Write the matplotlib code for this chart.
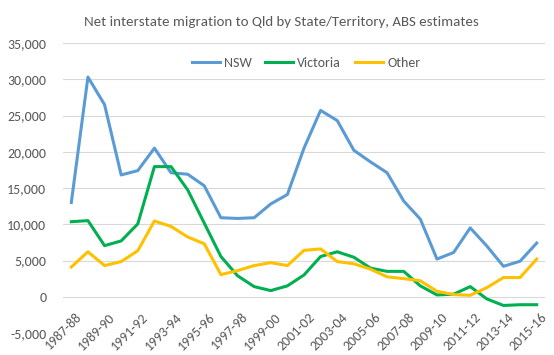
import matplotlib
matplotlib.use("Agg")
import matplotlib.pyplot as plt
from matplotlib.ticker import FuncFormatter, MultipleLocator

plt.rcParams['font.family'] = ['Carlito', 'Liberation Sans', 'DejaVu Sans']

years = ["1987-88", "1988-89", "1989-90", "1990-91", "1991-92", "1992-93", "1993-94",
         "1994-95", "1995-96", "1996-97", "1997-98", "1998-99", "1999-00", "2000-01",
         "2001-02", "2002-03", "2003-04", "2004-05", "2005-06", "2006-07", "2007-08",
         "2008-09", "2009-10", "2010-11", "2011-12", "2012-13", "2013-14", "2014-15",
         "2015-16"]

nsw = [13000, 30300, 26500, 16800, 17400, 20500, 17100, 16900, 15300, 10900, 10800,
       10900, 12800, 14100, 20500, 25700, 24300, 20200, 18600, 17100, 13200, 10700,
       5200, 6100, 9500, 7000, 4200, 4900, 7400]

victoria = [10350, 10500, 7050, 7700, 10050, 17950, 17950, 14750, 10150, 5550, 2900,
            1400, 850, 1500, 3000, 5550, 6200, 5450, 3950, 3500, 3500, 1500, 250, 350,
            1400, -300, -1200, -1100, -1100]

other = [4100, 6200, 4300, 4850, 6350, 10450, 9700, 8250, 7300, 3050, 3600, 4300,
         4700, 4300, 6400, 6600, 4850, 4550, 3800, 2750, 2500, 2200, 750, 300, 200,
         1250, 2650, 2650, 5200]

series_names = ["NSW", "Victoria", "Other"]
colors = ["#5B9BD5", "#00B050", "#FFC000"]
text_color = "#595959"

fig = plt.figure(figsize=(5.54, 3.55), dpi=100)
ax = fig.add_axes([63/554, 1 - 333/355, (545-63)/554, (333-43)/355])

x = list(range(len(years)))
for vals, name, c in zip([nsw, victoria, other], series_names, colors):
    ax.plot(x, vals, color=c, lw=2.2, label=name, solid_joinstyle='round')

ax.set_xlim(-0.5, len(years) - 0.5)
ax.set_ylim(-5000, 35000)
ax.yaxis.set_major_locator(MultipleLocator(5000))
ax.yaxis.set_major_formatter(FuncFormatter(lambda v, p: f"{int(v):,}"))
ax.grid(axis='y', color='#D9D9D9', lw=0.8)
ax.set_axisbelow(True)
for s in ax.spines.values():
    s.set_visible(False)
ax.tick_params(axis='y', length=0, pad=12, labelsize=10, labelcolor=text_color)

ax.set_xticks(x[::2])
ax.set_xticklabels([])
ax.tick_params(axis='x', length=0)
for i in x[::2]:
    ax.annotate(years[i], xy=(i, 0), xycoords='data', xytext=(3, -10),
                textcoords='offset points', rotation=45, ha='right', va='top',
                rotation_mode='anchor', fontsize=10, color=text_color,
                annotation_clip=False)

fig.text(281/554, 1 - 22/355, "Net interstate migration to Qld by State/Territory, ABS estimates",
         ha='center', va='center', fontsize=10.7, color=text_color)

leg = ax.legend(loc='center', bbox_to_anchor=(306/554, 1 - 63/355), bbox_transform=fig.transFigure,
                ncol=3, frameon=False, fontsize=10, handlelength=2.0, columnspacing=1.0,
                handletextpad=0.3)
for t in leg.get_texts():
    t.set_color(text_color)

fig.savefig("out.png", dpi=100)
